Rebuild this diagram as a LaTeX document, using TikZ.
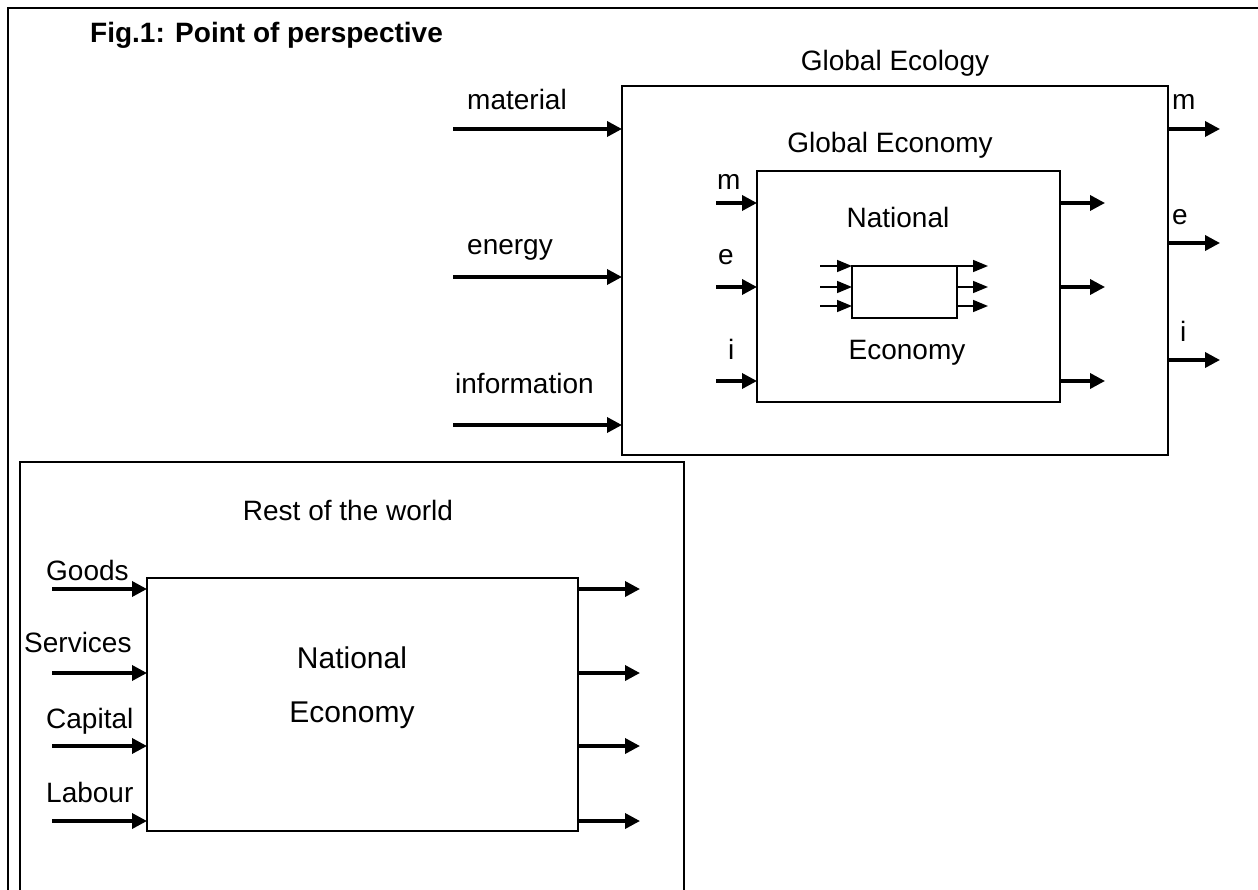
\documentclass[tikz,border=0pt]{standalone}
\usepackage{fontspec}
\setmainfont{Liberation Sans}
\usetikzlibrary{arrows.meta}
\begin{document}
\begin{tikzpicture}[x=1pt,y=-1pt,
  bigarr/.style={line width=3.5pt, -{Triangle[length=15pt,width=15pt]}},
  smallarr/.style={line width=1.5pt, -{Triangle[length=15pt,width=12pt]}},
  box/.style={draw, line width=2pt, inner sep=0pt, outer sep=0pt, rectangle},
  lbl/.style={font=\fontsize{28}{34}\selectfont, inner sep=0pt, anchor=base west},
  ttl/.style={font=\fontsize{28}{34}\selectfont, inner sep=0pt}]
\useasboundingbox (0,0) rectangle (1258,890);
% outer frame (top and left)
\draw[line width=2.5pt] (1262,8) -- (8,8) -- (8,894);
% title
\node[lbl, font=\fontsize{28}{34}\selectfont\bfseries] (title) at (90,43) {Fig.1: Point of perspective};

% ---------- Global ecology ----------
\node[box, minimum width=546pt, minimum height=369pt] (eco) at (895,270.5) {};
\node[ttl] (ecot) at (895,63) {Global Ecology};
\coordinate (mIn) at (453,129);
\coordinate (eIn) at (453,277);
\coordinate (iIn) at (453,425);
\draw[bigarr] (mIn) -- (mIn -| eco.west);
\draw[bigarr] (eIn) -- (eIn -| eco.west);
\draw[bigarr] (iIn) -- (iIn -| eco.west);
\node[lbl] (lmat) at (467,110) {material};
\node[lbl] (lene) at (467,255) {energy};
\node[lbl] (linf) at (455,393) {information};
\coordinate (mOut) at (1220,129);
\coordinate (eOut) at (1220,243);
\coordinate (iOut) at (1220,360);
\draw[bigarr] (mOut -| eco.east) -- (mOut);
\draw[bigarr] (eOut -| eco.east) -- (eOut);
\draw[bigarr] (iOut -| eco.east) -- (iOut);
\node[lbl] (lmo) at (1172,110) {m};
\node[lbl] (leo) at (1172,225) {e};
\node[lbl] (lio) at (1180,342) {i};

% ---------- Global economy ----------
\node[ttl] (gect) at (890,145) {Global Economy};
\node[box, minimum width=303pt, minimum height=231pt] (gec) at (908.5,286.5) {};
\coordinate (gmIn) at (716,203);
\coordinate (geIn) at (716,287);
\coordinate (giIn) at (716,381);
\draw[bigarr] (gmIn) -- (gmIn -| gec.west);
\draw[bigarr] (geIn) -- (geIn -| gec.west);
\draw[bigarr] (giIn) -- (giIn -| gec.west);
\node[lbl] (lgm) at (717,190) {m};
\node[lbl] (lge) at (718,265) {e};
\node[lbl] (lgi) at (728,360) {i};
\coordinate (gmOut) at (1105,203);
\coordinate (geOut) at (1105,287);
\coordinate (giOut) at (1105,381);
\draw[bigarr] (gmOut -| gec.east) -- (gmOut);
\draw[bigarr] (geOut -| gec.east) -- (geOut);
\draw[bigarr] (giOut -| gec.east) -- (giOut);
\node[ttl] (nat1) at (898,217) {National};
\node[ttl] (eco1) at (907,353) {Economy};

% small national economy
\node[box, line width=1.5pt, minimum width=105pt, minimum height=52pt] (small) at (904.5,292) {};
\coordinate (s1) at (820,266);
\coordinate (s2) at (820,287);
\coordinate (s3) at (820,306);
\draw[smallarr] (s1) -- (s1 -| small.west);
\draw[smallarr] (s2) -- (s2 -| small.west);
\draw[smallarr] (s3) -- (s3 -| small.west);
\coordinate (t1) at (988,266);
\coordinate (t2) at (988,287);
\coordinate (t3) at (988,306);
\draw[smallarr] (t1 -| small.east) -- (t1);
\draw[smallarr] (t2 -| small.east) -- (t2);
\draw[smallarr] (t3 -| small.east) -- (t3);

% ---------- Rest of the world ----------
\node[box, line width=1.5pt, minimum width=664pt, minimum height=488pt] (row) at (352,706) {};
\node[ttl] (rowt) at (348,510) {Rest of the world};
\node[box, minimum width=431pt, minimum height=253pt] (ne) at (362.5,704.5) {};
\node[ttl, font=\fontsize{30}{36}\selectfont] (ne1) at (352,658) {National};
\node[ttl, font=\fontsize{30}{36}\selectfont] (ne2) at (352,715) {Economy};
\coordinate (gIn) at (52,589);
\coordinate (sIn) at (52,673);
\coordinate (cIn) at (52,746);
\coordinate (lIn) at (52,821);
\draw[bigarr] (gIn) -- (gIn -| ne.west);
\draw[bigarr] (sIn) -- (sIn -| ne.west);
\draw[bigarr] (cIn) -- (cIn -| ne.west);
\draw[bigarr] (lIn) -- (lIn -| ne.west);
\node[lbl] (lg) at (46,580) {Goods};
\node[lbl] (ls) at (24,652) {Services};
\node[lbl] (lc) at (46,728) {Capital};
\node[lbl] (ll) at (46,802) {Labour};
\coordinate (gOut) at (640,589);
\coordinate (sOut) at (640,673);
\coordinate (cOut) at (640,746);
\coordinate (lOut) at (640,821);
\draw[bigarr] (gOut -| ne.east) -- (gOut);
\draw[bigarr] (sOut -| ne.east) -- (sOut);
\draw[bigarr] (cOut -| ne.east) -- (cOut);
\draw[bigarr] (lOut -| ne.east) -- (lOut);
\end{tikzpicture}
\end{document}
